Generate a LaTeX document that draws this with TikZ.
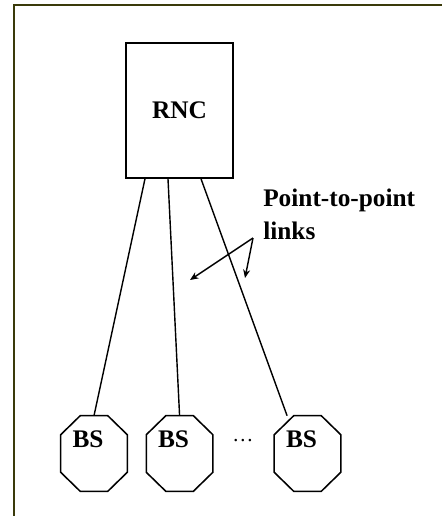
\documentclass[tikz,border=0pt]{standalone}
\usepackage{fontspec}
\setmainfont{Liberation Serif}
\usetikzlibrary{arrows.meta,positioning}
\definecolor{frameolive}{RGB}{58,58,10}

\begin{document}
\begin{tikzpicture}[
    x=0.025cm, y=-0.025cm,
    box/.style={rectangle, draw, line width=1.1pt, minimum width=2.675cm, minimum height=3.375cm, font=\fontsize{18}{22}\selectfont\bfseries},
    bsnode/.style={rectangle, minimum width=1.65cm, minimum height=1.875cm, inner sep=0pt},
    bslabel/.style={font=\fontsize{18}{22}\selectfont\bfseries, inner sep=0pt, xshift=-0.15cm, yshift=0.36cm},
    link/.style={line width=1pt},
    arrow/.style={-{Stealth[length=6pt,width=5pt]}, line width=1pt}
]
\useasboundingbox (0,0) rectangle (442,516);

% Frame (top and left edges only)
\draw[frameolive, line width=2.1pt] (14,516) -- (14,5) -- (442,5);

% Controller
\node[box] (rnc) at (179.5,110.5) {RNC};

% Base stations
\node[bsnode, label={[bslabel]center:BS}] (bs1) at (94,453.5) {};
\node[bsnode, label={[bslabel]center:BS}, right=0.475cm of bs1] (bs2) {};
\node[bsnode, label={[bslabel]center:BS}] (bs3) at (307.5,453.5) {};
\node[font=\fontsize{15}{18}\selectfont, inner sep=0pt] (dots) at (243,441) {\ldots};

% Octagon outlines round the base stations
\foreach \n in {bs1,bs2,bs3}
  \draw[line width=1.1pt]
    ([xshift=0.4875cm]\n.north west) -- ([xshift=-0.4875cm]\n.north east)
    -- ([yshift=-0.475cm]\n.north east) -- ([yshift=0.475cm]\n.south east)
    -- ([xshift=-0.4875cm]\n.south east) -- ([xshift=0.4875cm]\n.south west)
    -- ([yshift=0.475cm]\n.south west) -- ([yshift=-0.475cm]\n.north west) -- cycle;

% Links
\draw[link] ([xshift=-0.8625cm]rnc.south) -- (bs1.north);
\draw[link] ([xshift=-0.2875cm]rnc.south) -- (bs2.north);
\draw[link] ([xshift=0.5375cm]rnc.south) -- ([xshift=-0.51cm]bs3.north);

% Label with arrows
\node[anchor=north west, align=left, inner sep=0pt, font=\fontsize{18}{23}\selectfont\bfseries] (links) at (263,189) {Point-to-point\\links};
\coordinate (fork) at (253,238);
\coordinate (tip1) at (190,280);
\coordinate (tip2) at (245,278);
\draw[arrow] (fork) -- (tip1);
\draw[arrow] (fork) -- (tip2);

\end{tikzpicture}
\end{document}
